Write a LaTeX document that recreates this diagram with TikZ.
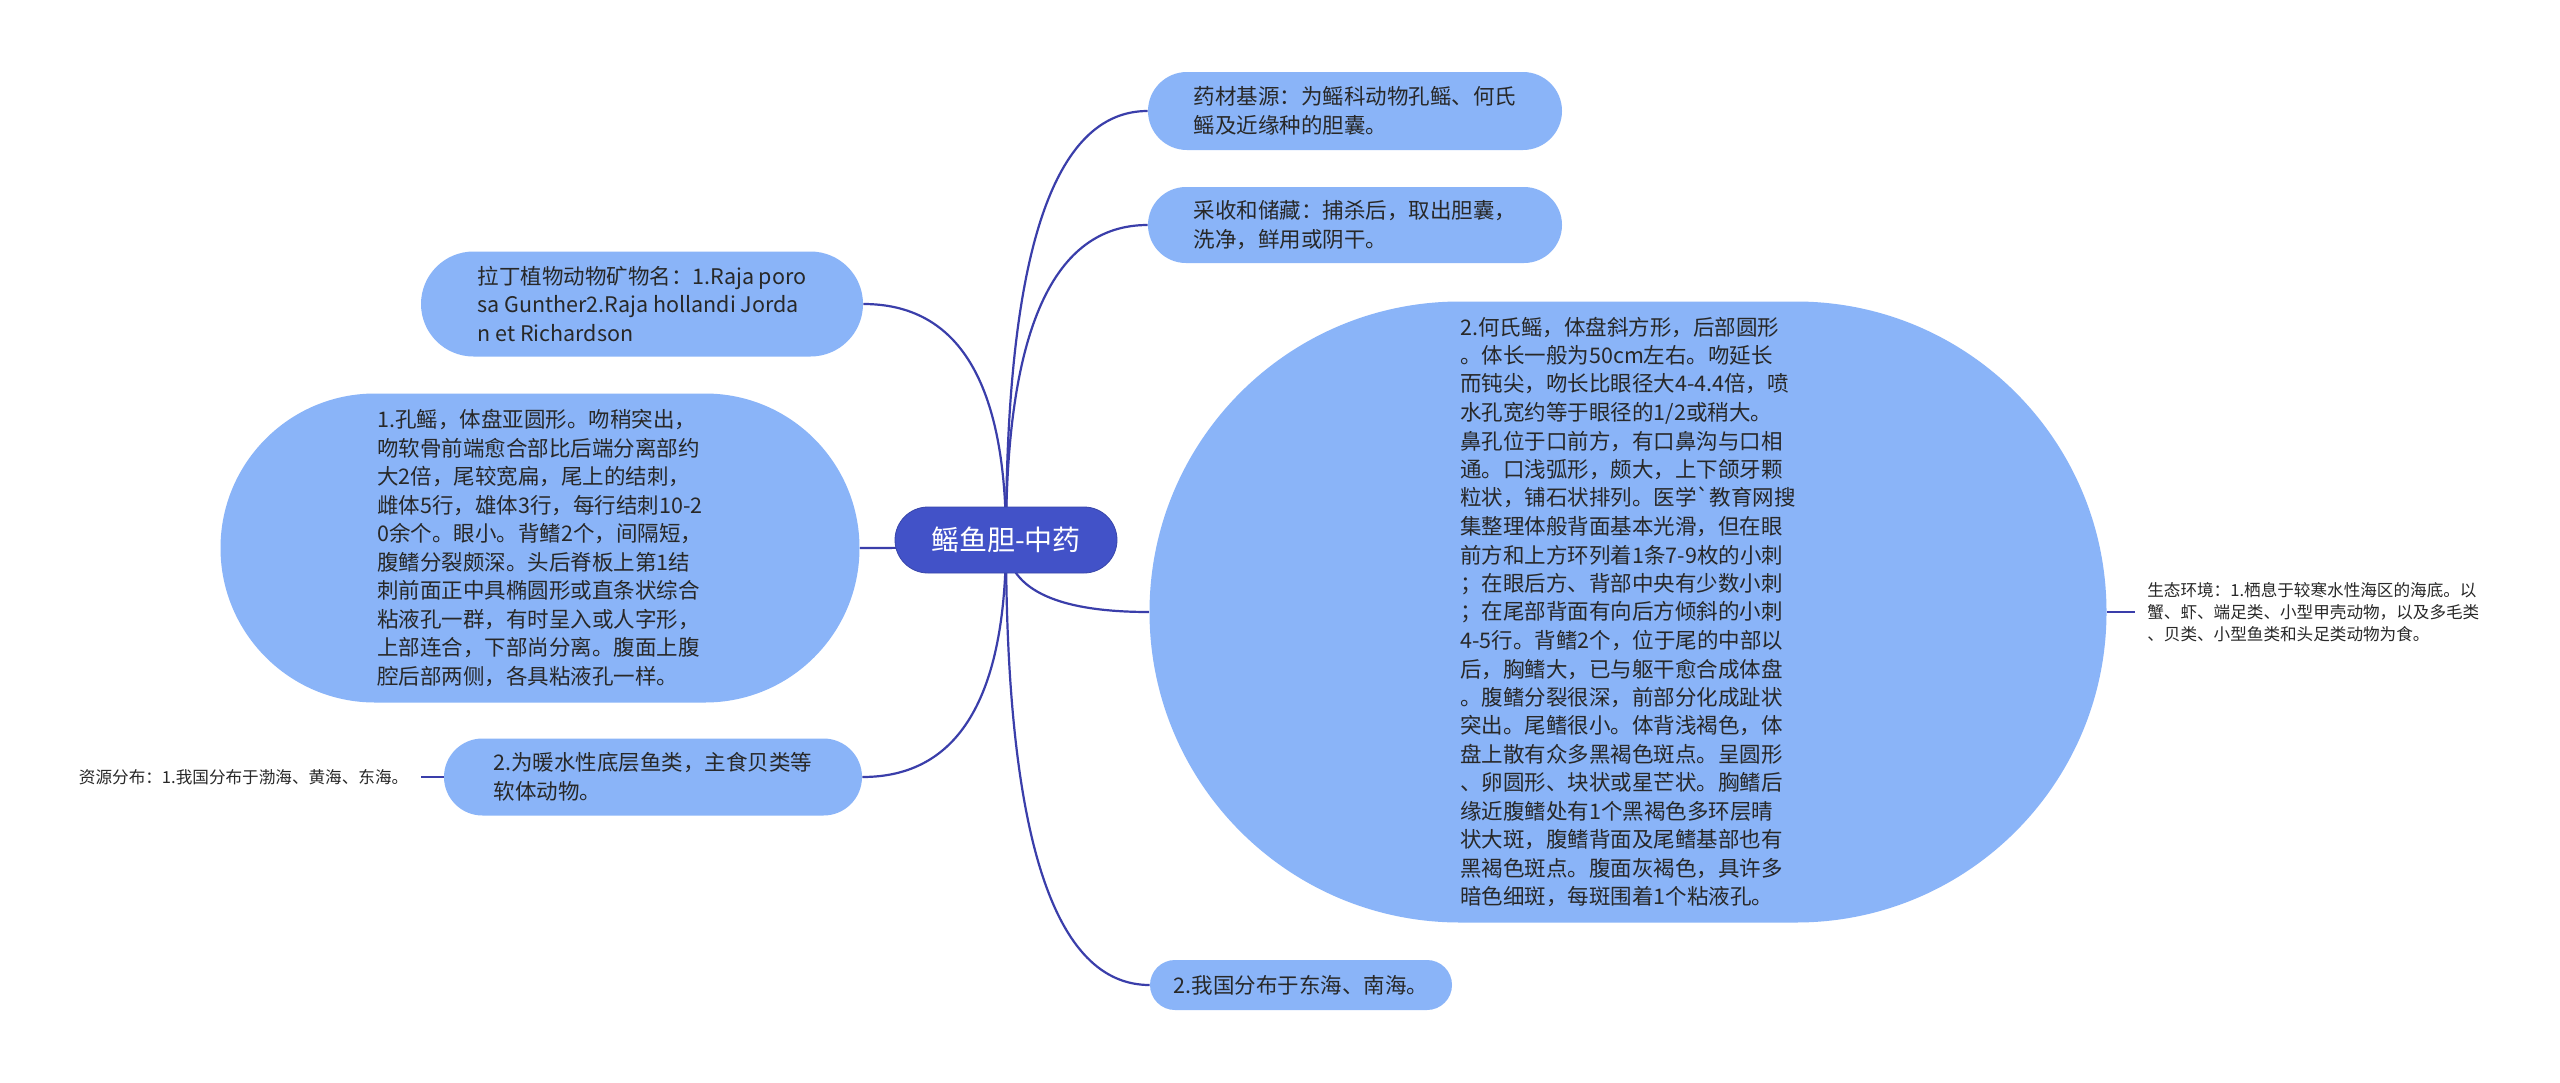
\documentclass[tikz,border=0pt]{standalone}
\usepackage{fontspec}
\newfontfamily\cjk{Noto Sans CJK SC}
\usetikzlibrary{positioning, shapes.misc, backgrounds, calc}
\definecolor{rootblue}{RGB}{66,82,200}
\definecolor{leafblue}{RGB}{138,180,248}
\definecolor{linkblue}{RGB}{58,62,170}
\definecolor{inktext}{RGB}{40,40,40}
\tikzset{
	roottopic/.style={rounded rectangle, fill=rootblue, draw=rootblue!85!black, line width=0.4pt,
		text=white, font=\cjk\fontsize{14}{17}\selectfont, minimum width=111pt, minimum height=33pt, inner sep=0pt}
}
\tikzset{
	subtopic/.style={rounded rectangle, fill=leafblue, text=inktext, align=left,
		font=\cjk\fontsize{10.75}{14.25}\selectfont, inner sep=0pt}
}
\tikzset{
	plaintext/.style={align=left, text=inktext, font=\cjk\fontsize{8.3}{10.85}\selectfont, inner xsep=6pt}
}
\tikzset{
	link/.style={draw=linkblue, line width=1.1pt}
}

\begin{document}
\begin{tikzpicture}[x=0.5pt, y=-0.5pt]
	\useasboundingbox (0,0) rectangle (2560,1082);
	\node[roottopic] (root) at (1006,540) {鳐鱼胆-中药};
	% right side
	\node[subtopic, minimum width=207pt, minimum height=39pt] (yaocai) at (1355,111)
		{药材基源：为鳐科动物孔鳐、何氏\\鳐及近缘种的胆囊。};
	\node[subtopic, minimum width=207pt, minimum height=38pt] (caishou) at (1355,225)
		{采收和储藏：捕杀后，取出胆囊，\\洗净，鲜用或阴干。};
	\node[subtopic, minimum width=478.5pt, minimum height=310.5pt] (heshi) at (1628,612)
		{2.何氏鳐，体盘斜方形，后部圆形\\
		。体长一般为50cm左右。吻延长\\
		而钝尖，吻长比眼径大4-4.4倍，喷\\
		水孔宽约等于眼径的1/2或稍大。\\
		鼻孔位于口前方，有口鼻沟与口相\\
		通。口浅弧形，颇大，上下颌牙颗\\
		粒状，铺石状排列。医学\textasciigrave 教育网搜\\
		集整理体般背面基本光滑，但在眼\\
		前方和上方环列着1条7-9枚的小刺\\
		；在眼后方、背部中央有少数小刺\\
		；在尾部背面有向后方倾斜的小刺\\
		4-5行。背鳍2个，位于尾的中部以\\
		后，胸鳍大，已与躯干愈合成体盘\\
		。腹鳍分裂很深，前部分化成趾状\\
		突出。尾鳍很小。体背浅褐色，体\\
		盘上散有众多黑褐色斑点。呈圆形\\
		、卵圆形、块状或星芒状。胸鳍后\\
		缘近腹鳍处有1个黑褐色多环层晴\\
		状大斑，腹鳍背面及尾鳍基部也有\\
		黑褐色斑点。腹面灰褐色，具许多\\
		暗色细斑，每斑围着1个粘液孔。};
	\node[subtopic, minimum width=151pt, minimum height=25pt] (fenbu) at (1301,985)
		{2.我国分布于东海、南海。};
	\node[plaintext, right=14pt of heshi] (shengtai)
		{生态环境：1.栖息于较寒水性海区的海底。以\\
		蟹、虾、端足类、小型甲壳动物，以及多毛类\\
		、贝类、小型鱼类和头足类动物为食。};
	% left side
	\node[subtopic, minimum width=221pt, minimum height=52.5pt] (lading) at (642,304)
		{拉丁植物动物矿物名：1.Raja poro\\sa Gunther2.Raja hollandi Jorda\\n et Richardson};
	\node[subtopic, minimum width=319.5pt, minimum height=154.5pt] (kongyao) at (540,548)
		{1.孔鳐，体盘亚圆形。吻稍突出，\\
		吻软骨前端愈合部比后端分离部约\\
		大2倍，尾较宽扁，尾上的结刺，\\
		雌体5行，雄体3行，每行结刺10-2\\
		0余个。眼小。背鳍2个，间隔短，\\
		腹鳍分裂颇深。头后脊板上第1结\\
		刺前面正中具椭圆形或直条状综合\\
		粘液孔一群，有时呈入或人字形，\\
		上部连合，下部尚分离。腹面上腹\\
		腔后部两侧，各具粘液孔一样。};
	\node[subtopic, minimum width=209pt, minimum height=38.5pt] (nuanshui) at (653,777)
		{2.为暖水性底层鱼类，主食贝类等\\软体动物。};
	\node[plaintext, left=11.5pt of nuanshui] (ziyuan)
		{资源分布：1.我国分布于渤海、黄海、东海。};
	% connectors behind the nodes
	\begin{scope}[on background layer]
		\fill[white] (0,0) rectangle (2560,1082);
		\foreach \kid/\side in {yaocai/west, caishou/west, heshi/west, fenbu/west,
			lading/east, kongyao/east, nuanshui/east} {
			\coordinate (bend) at (root.center |- \kid.\side);
			\draw[link] (root.center) .. controls ($(root.center)!0.667!(bend)$)
				and ($(\kid.\side)!0.667!(bend)$) .. (\kid.\side);
		}
		\draw[link] (nuanshui.west) -- (ziyuan.east);
		\draw[link] (heshi.east) -- (shengtai.west);
	\end{scope}
\end{tikzpicture}
\end{document}
